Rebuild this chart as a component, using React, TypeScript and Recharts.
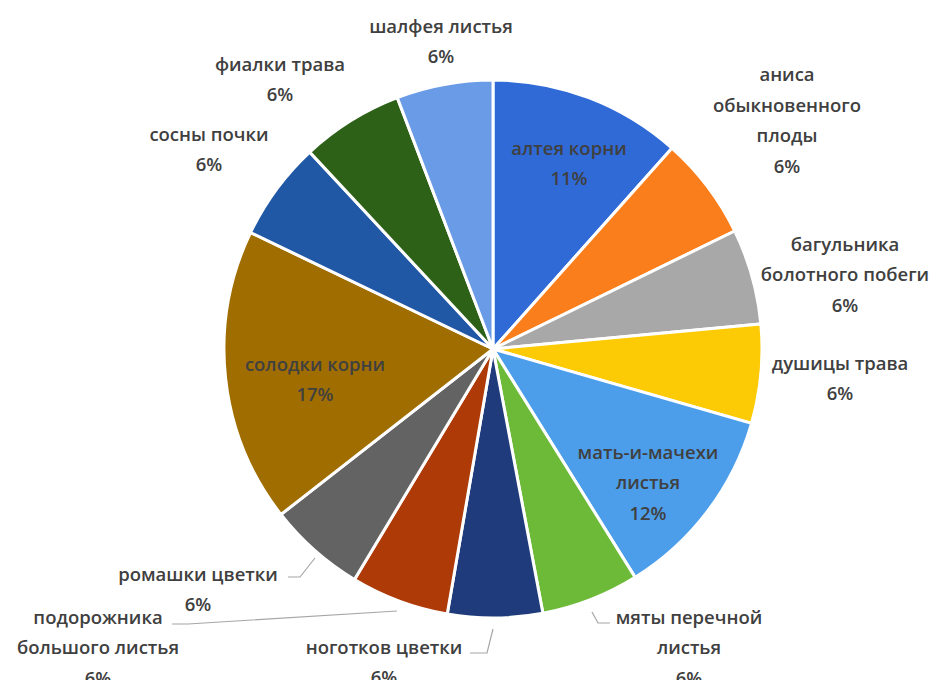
import React from "react";
import { PieChart, Pie, Cell } from "recharts";

// Categories (clockwise from 12 o'clock), "\n" marks the label line breaks
const categories: string[] = [
  "алтея корни",
  "аниса\nобыкновенного\nплоды",
  "багульника\nболотного побеги",
  "душицы трава",
  "мать-и-мачехи\nлистья",
  "мяты перечной\nлистья",
  "ноготков цветки",
  "подорожника\nбольшого листья",
  "ромашки цветки",
  "солодки корни",
  "сосны почки",
  "фиалки трава",
  "шалфея листья",
];

// Share values (%)
const values: number[] = [11.6, 6.2, 5.75, 5.95, 11.7, 5.9, 5.7, 5.9, 5.85, 17.7, 5.95, 6.15, 5.8];

// Percent labels as printed on the chart
const percentLabels: string[] = ["11%", "6%", "6%", "6%", "12%", "6%", "6%", "6%", "6%", "17%", "6%", "6%", "6%"];

const colors: string[] = [
  "#2F6AD6",
  "#FB7E1C",
  "#A8A8A8",
  "#FDCB05",
  "#4C9EEA",
  "#6CBA38",
  "#1F3B7B",
  "#AE3A07",
  "#636363",
  "#A06E00",
  "#2158A6",
  "#2E6118",
  "#6A9BE7",
];

// Label block centres relative to pie centre (layout only)
const labelOffsets: [number, number][] = [
  [76, -187],
  [294, -230],
  [352, -76],
  [347, 28],
  [155, 132],
  [196, 297],
  [-109, 312],
  [-395, 297],
  [-295, 239],
  [-178, 29],
  [-284, -201],
  [-213, -271],
  [-52, -309],
];

// Leader lines (relative to pie centre) for labels that have them
const leaderLines: Record<number, [number, number][]> = {
  5: [[99, 263], [105, 274], [117, 274]],
  6: [[-23, 304], [-6, 304], [0, 280]],
  7: [[-321, 275], [-305, 275], [-96, 262]],
  8: [[-205, 228], [-193, 228], [-178, 209]],
};

const data = categories.map((name, i) => ({ name, value: values[i], pct: percentLabels[i] }));

const CX = 493;
const CY = 349;
const R = 269;
const LINE_H = 30.5;

const renderLabel = (props: any) => {
  const i: number = props.index;
  const cx = props.cx ?? CX;
  const cy = props.cy ?? CY;
  const lines = [...categories[i].split("\n"), percentLabels[i]];
  const [dx, dy] = labelOffsets[i];
  const x = cx + dx;
  const y0 = cy + dy - ((lines.length - 1) * LINE_H) / 2;
  const leader = leaderLines[i];
  return (
    <g key={`lbl-${i}`}>
      {leader && (
        <polyline
          points={leader.map(([px, py]) => `${cx + px},${cy + py}`).join(" ")}
          fill="none"
          stroke="#A6A6A6"
          strokeWidth={1.2}
        />
      )}
      <text
        x={x}
        y={y0}
        textAnchor="middle"
        dominantBaseline="central"
        fill="#404040"
        fontFamily="'Open Sans', sans-serif"
        fontSize={18.5}
        fontWeight={600}
      >
        {lines.map((ln, k) => (
          <tspan key={k} x={x} y={y0 + k * LINE_H}>
            {ln}
          </tspan>
        ))}
      </text>
    </g>
  );
};

export default function App() {
  return (
    <div style={{ width: 938, height: 688, margin: -8, background: "#fff" }}>
      <PieChart width={938} height={688} margin={{ top: 0, right: 0, bottom: 0, left: 0 }}>
        <Pie
          data={data}
          dataKey="value"
          nameKey="name"
          cx={CX}
          cy={CY}
          outerRadius={R}
          startAngle={90}
          endAngle={-270}
          stroke="#FFFFFF"
          strokeWidth={3}
          label={renderLabel}
          labelLine={false}
          isAnimationActive={false}
        >
          {data.map((d, i) => (
            <Cell key={d.name} fill={colors[i]} />
          ))}
        </Pie>
      </PieChart>
    </div>
  );
}
